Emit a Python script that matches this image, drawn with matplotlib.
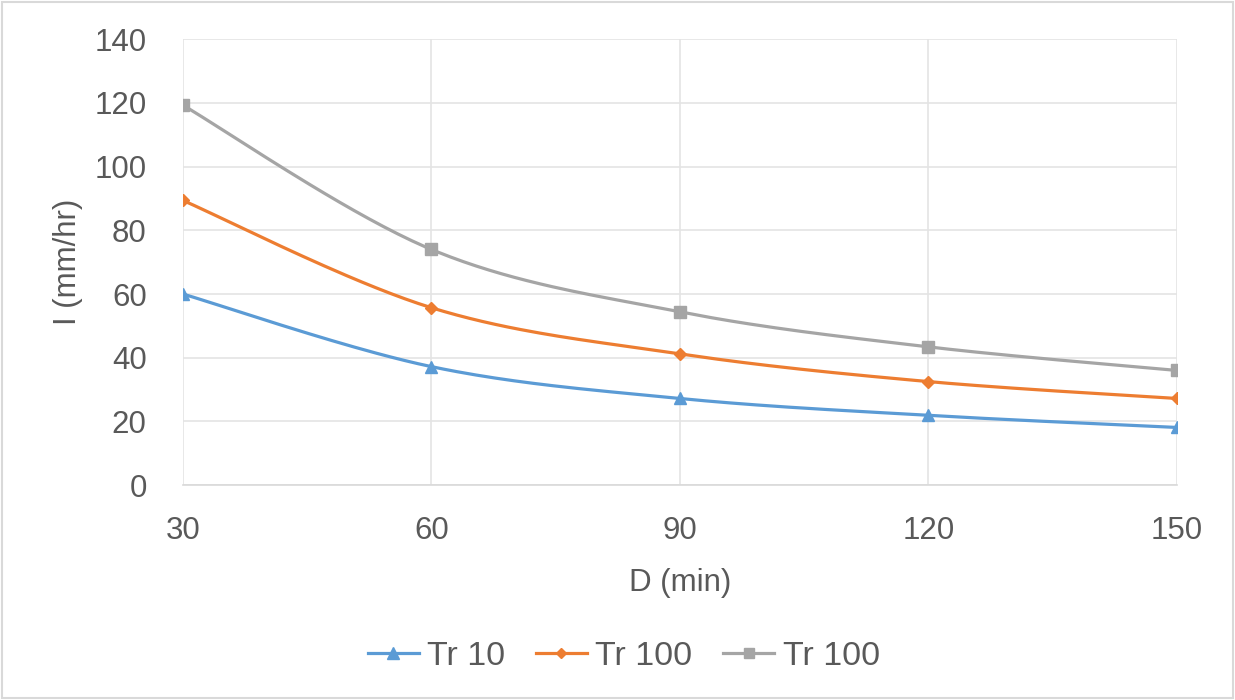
import numpy as np
import matplotlib
matplotlib.use("agg")
from matplotlib import pyplot as plt

# durations (min) and intensities (mm/hr)
durations = [30, 60, 90, 120, 150]
tr10 = [60.0, 37.2, 27.2, 21.9, 18.1]
tr100_a = [89.4, 55.7, 41.2, 32.5, 27.2]
tr100_b = [119.3, 74.0, 54.4, 43.4, 36.0]
labels = ['Tr 10', 'Tr 100', 'Tr 100']

plt.rcParams['font.family'] = ['Liberation Sans', 'DejaVu Sans']
TXT = '#595959'


def smooth(x, y, n=40):
    # excel-like smoothed line: catmull-rom bezier segments
    x = np.asarray(x, float)
    y = np.asarray(y, float)
    px = np.concatenate([[x[0]], x, [x[-1]]])
    py = np.concatenate([[y[0]], y, [y[-1]]])
    xs, ys = [], []
    t = np.linspace(0, 1, n)
    for i in range(len(x) - 1):
        p0 = np.array([px[i + 1], py[i + 1]])
        p3 = np.array([px[i + 2], py[i + 2]])
        c1 = p0 + (p3 - np.array([px[i], py[i]])) / 6
        c2 = p3 - (np.array([px[i + 3], py[i + 3]]) - p0) / 6
        b = ((1 - t) ** 3)[:, None] * p0 + (3 * (1 - t) ** 2 * t)[:, None] * c1 \
            + (3 * (1 - t) * t ** 2)[:, None] * c2 + (t ** 3)[:, None] * p3
        xs.extend(b[:, 0])
        ys.extend(b[:, 1])
    return xs, ys


fig = plt.figure(figsize=(12.35, 7), dpi=100)
ax = fig.add_axes([0.148, 0.307, 0.805, 0.637])

series = [(tr10, '#5B9BD5', '^', 9), (tr100_a, '#ED7D31', 'D', 6.5), (tr100_b, '#A5A5A5', 's', 8)]
for (vals, col, mk, ms), lab in zip(series, labels):
    sx, sy = smooth(durations, vals)
    ax.plot(sx, sy, color=col, lw=2.3, zorder=3)
    ax.plot(durations, vals, linestyle='none', marker=mk, ms=ms, color=col, zorder=4)
    ax.plot([], [], color=col, lw=2.3, marker=mk, ms=ms - 1, label=lab)

ax.set_xlim(30, 150)
ax.set_ylim(0, 140)
ax.set_xticks(durations)
ax.set_yticks(range(0, 141, 20))
ax.grid(True, color='#e4e4e4', lw=1.2)
ax.set_axisbelow(True)
for s in ['top', 'right', 'left']:
    ax.spines[s].set_visible(False)
ax.spines['bottom'].set_color('#d9d9d9')
ax.spines['bottom'].set_linewidth(1.2)
ax.tick_params(length=0, labelsize=22.5, colors=TXT)
ax.tick_params(axis='x', pad=22)
ax.tick_params(axis='y', pad=26)
ax.set_xlabel('D (min)', fontsize=22.5, color=TXT, labelpad=16)
ax.set_ylabel('I (mm/hr)', fontsize=22.5, color=TXT, labelpad=8)

fig.legend(loc='center', bbox_to_anchor=(0.505, 0.062), ncol=3, frameon=False,
           fontsize=24.5, labelcolor=TXT, handlelength=1.5, columnspacing=0.9, handletextpad=0.25)

fig.patches.append(plt.Rectangle((0.002, 0.003), 0.996, 0.994, transform=fig.transFigure,
                                 fill=False, edgecolor='#d9d9d9', lw=1.5))

plt.savefig('out.png', dpi=100)
